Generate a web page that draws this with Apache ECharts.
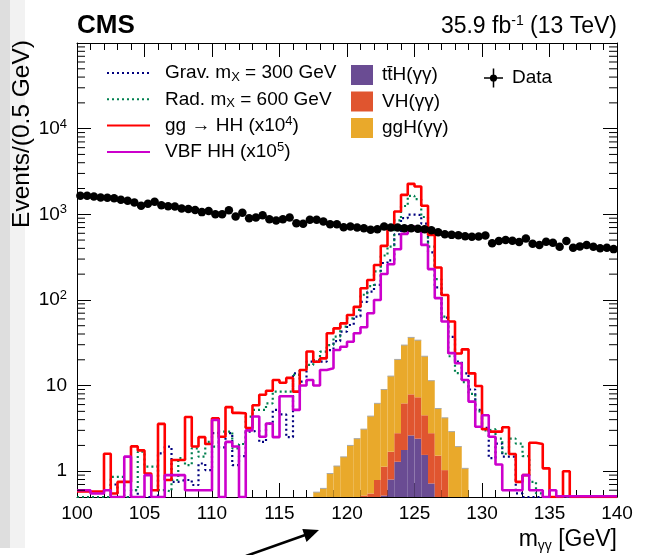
<!DOCTYPE html>
<html><head><meta charset="utf-8">
<script src="https://cdn.jsdelivr.net/npm/echarts@6/dist/echarts.min.js"></script>
<style>html,body{margin:0;padding:0;background:#fff}#c{width:645px;height:555px}</style>
</head><body><div id="c"></div>
<script>
// ---- binning (80 bins of 0.5 GeV from 100 to 140) ----
const binLow = 100;
const binWidth = 0.5;

// ---- observed events per bin ----
const dataCounts = [
 1641,1641,1612,1569,1555,1541,1474,1435,1373,1256,
 1325,1398,1279,1244,1233,1165,1155,1124,1060,1089,
 1004,1004,1114,943,1041,901,918,977,877,846,
 877,918,787,773,861,861,823,766,766,707,
 720,701,689,658,670,720,701,701,689,689,
 676,670,653,617,586,575,570,555,545,550,
 565,458,487,500,491,474,523,454,438,478,
 465,418,487,407,422,438,418,400,407,392];

// ---- signal step histograms (0.5 = at/below the lower edge of the plot) ----
const gravHH = [
 0.5,0.5,0.5,0.5,0.5,0.7,0.5,0.5,0.6,0.5,
 0.5,0.5,1.62,1.94,0.75,0.79,0.79,0.69,1.23,1.03,
 2.78,1.9,2.78,1.18,1.5,2.9,3.0,2.2,3.6,5.2,
 4.6,2.5,13.9,11.1,19,19,19,26,33,42.6,
 51,64,95,125,150,270,290,585,900,990,
 980,780,360,140,62,37,19,13.9,9,5.2,
 3.2,1.42,2.1,1.48,1.48,0.55,0.5,0.5,0.5,0.5,
 0.5,0.5,0.5,0.5,0.5,0.5,0.5,0.5,0.5,0.5];
const radHH = [
 0.5,0.5,0.5,0.5,0.5,0.86,0.86,0.5,0.6,1.69,
 1.13,1.13,0.6,0.58,0.79,1.42,1.18,1.85,1.48,2.2,
 1.94,2.9,2.9,1.85,2.08,4.35,5.2,5.2,6.2,8.5,
 8.5,8.5,13.3,15.2,17.4,19.9,24.9,29.7,37.3,48.9,
 61,76.5,115,145,215,330,420,850,1250,1640,
 1500,930,420,175,64,22,14,11,8,5,
 3.0,3.1,2.4,1.6,2.4,2.1,1.5,0.75,0.55,0.5,
 0.5,0.5,0.5,0.5,0.5,0.5,0.5,0.5,0.5,0.5];
const ggHH = [
 0.58,0.58,0.58,0.58,1.6,0.55,0.75,0.75,1.95,1.75,
 0.94,0.6,3.57,0.79,1.35,1.35,4.3,1.94,2.5,2.08,
 4.15,2.53,5.6,4.8,4.75,3.2,5.9,7.8,8.7,11.6,
 10.8,12.3,8.5,15.2,25,19,20.8,40.8,46.6,53.2,
 66.6,83,137,171,256,428,689,1076,1687,2268,
 2109,1256,575,239,114,56,23.7,26.5,13.9,9.9,
 3.1,2.9,2.9,3.26,1.59,0.75,0.9,2.15,2.08,1.08,
 0.5,0.5,1.0,0.5,0.5,0.5,0.5,0.5,0.5,0.5];
const vbfHH = [
 0.6,0.6,0.55,0.55,0.6,0.5,0.5,1.48,0.5,0.5,
 0.9,0.5,0.5,0.9,0.9,0.9,0.6,0.6,0.6,0.6,
 3.97,0.5,2.2,1.94,0.5,3.0,4.35,2.53,3.6,2.5,
 7.5,7.5,5.2,10,11.6,10,15.2,15.9,26,28.4,
 32.5,40.8,48,70,100,201,261,391,591,719,
 658,439,229,105,56,23.9,18.2,11.6,6.5,3.3,
 4.5,2.53,1.2,0.6,0.6,0.6,0.9,0.6,0.6,0.5,
 0.6,0.51,0.51,0.51,0.51,0.51,0.51,0.51,0.51,0.51];

// ---- SM single-Higgs stacked contributions (per bin, not cumulative) ----
const ttH = [
 0,0,0,0,0,0,0,0,0,0, 0,0,0,0,0,0,0,0,0,0,
 0,0,0,0,0,0,0,0,0,0, 0,0,0,0,0,0,0,0,0,0,
 0,0,0,0,0,0.52,0.8,1.29,1.77,2.62,
 2.4,1.55,0.72,0,0,0,0,0,0,0,
 0,0,0,0,0,0,0,0,0,0, 0,0,0,0,0,0,0,0,0,0];
const VH = [
 0,0,0,0,0,0,0,0,0,0, 0,0,0,0,0,0,0,0,0,0,
 0,0,0,0,0,0,0,0,0,0, 0,0,0,0,0,0,0,0,0,0,
 0,0,0.52,0.55,0.79,0.61,0.89,1.49,4.43,5.28,
 4.9,2.95,2.06,1.52,1.03,0,0,0,0,0,
 0,0,0,0,0,0,0,0,0,0, 0,0,0,0,0,0,0,0,0,0];
const ggH = [
 0,0,0,0,0,0,0,0,0,0, 0,0,0,0,0,0,0,0,0,0,
 0,0,0,0,0,0,0,0,0,0, 0,0,0,0,0,0.57,0.63,0.94,1.15,1.47,
 2.0,2.4,2.58,3.85,5.41,7.87,11.21,17.42,23.5,28.6,
 26.6,17.5,8.62,3.88,3.17,2.9,1.94,1.08,0,0,
 0,0,0,0,0,0,0,0,0,0, 0,0,0,0,0,0,0,0,0,0];

// ---- axis labels ----
const yTickLabels = {1:'1', 10:'10', 100:'10{sup|2}', 1000:'10{sup|3}', 10000:'10{sup|4}'};
const legendLabels = {
  grav: 'Grav. m{sub|X} = 300 GeV',
  rad: 'Rad. m{sub|X} = 600 GeV',
  gghh: 'gg \u2192 HH (x10{sup|4})',
  vbfhh: 'VBF HH (x10{sup|5})',
  tth: 'tt\u0304H(\u03b3\u03b3)',
  vh: 'VH(\u03b3\u03b3)',
  ggh: 'ggH(\u03b3\u03b3)',
  data: 'Data'
};

const Y_MIN = 0.5, Y_MAX = 1e5;
const FONT = '"Liberation Sans", Arial, Helvetica, sans-serif';
const COL = {grav:'#00007f', rad:'#00804f', gghh:'#ff0000', vbfhh:'#cc00cc',
             tth:'#6a4c93', vh:'#e0552f', ggh:'#e9a92b'};

function stepPoints(arr){
  const pts = arr.map((v,i)=>[binLow + binWidth*i, v]);
  pts.push([binLow + binWidth*arr.length, arr[arr.length-1]]);
  return pts;
}
const dataPoints = dataCounts.map((v,i)=>[binLow + binWidth*(i+0.5), v]);

// cumulative stack layers
function stackRows(lower, own){
  const rows = [];
  own.forEach((v,i)=>{
    if (v > 0) {
      const b = lower.reduce((s,a)=>s + a[i], 0);
      rows.push([binLow + binWidth*i, binLow + binWidth*(i+1), b, b + v]);
    }
  });
  return rows;
}
function stackSeries(name, lower, own, edge){
  return {
    type:'custom', name: name, clip:true, z:2,
    itemStyle:{color: COL[name]},
    encode:{x:[0,1], y:3},
    data: stackRows(lower, own),
    renderItem: function(params, api){
      const x0 = api.value(0), x1 = api.value(1);
      const b = Math.max(api.value(2), Y_MIN), t = api.value(3);
      if (t <= Y_MIN) return null;
      const p0 = api.coord([x0, b]), p1 = api.coord([x1, t]);
      const children = [{type:'rect', shape:{x:p0[0], y:p1[1], width:p1[0]-p0[0], height:p0[1]-p1[1]},
        style:{fill: COL[name]}}];
      if (edge) children.push({type:'line', shape:{x1:p0[0], y1:p1[1], x2:p1[0], y2:p1[1]},
        style:{stroke:'#a8a8a8', lineWidth:1}});
      return {type:'group', children: children};
    }
  };
}

// log minor-tick positions (axis decoration)
const logMinorTicks = [];
for (let e = -1; e <= 4; e++) for (let m = 2; m <= 9; m++) {
  const v = m * Math.pow(10, e);
  if (v > Y_MIN && v < Y_MAX) logMinorTicks.push(v);
}

const RICH = {
  sub:{fontSize:13, lineHeight:10, verticalAlign:'bottom', fontFamily:FONT, color:'#000'},
  sup:{fontSize:13, lineHeight:10, verticalAlign:'top', fontFamily:FONT, color:'#000'}
};
const legText = {fontSize:19, fontFamily:FONT, color:'#000', lineHeight:22, rich:RICH};

function xAxisCfg(pos){
  return {type:'value', min:100, max:140, interval:5, position:pos,
    axisLine:{show:true, onZero:false, lineStyle:{color:'#000', width:1}},
    axisTick:{show:true, inside:true, length:14, lineStyle:{color:'#000', width:1}},
    minorTick:{show:true, splitNumber:5, length:7, lineStyle:{color:'#000', width:1}},
    axisLabel:{show: pos==='bottom', margin:7, fontSize:19, fontFamily:FONT, color:'#000'},
    splitLine:{show:false}, minorSplitLine:{show:false}};
}
function yAxisCfg(pos){
  return {type:'log', logBase:10, min:Y_MIN, max:Y_MAX, position:pos,
    axisLine:{show:true, onZero:false, lineStyle:{color:'#000', width:1}},
    axisTick:{show:true, inside:true, length:14, lineStyle:{color:'#000', width:1}},
    axisLabel:{show: pos==='left', margin:10, fontSize:19, fontFamily:FONT, color:'#000',
      showMinLabel:false, showMaxLabel:false, lineHeight:22, rich:{sup:{fontSize:13, lineHeight:10, verticalAlign:'top', fontFamily:FONT, color:'#000'}},
      formatter: function(v){
        const e = Math.round(Math.log10(v)); const k = Math.pow(10, e);
        if (Math.abs(v-k)/k < 1e-6 && yTickLabels[k] !== undefined) return yTickLabels[k];
        return '';
      }},
    splitLine:{show:false}};
}

const DATA_ICON = 'path://M0,9.2H20V10.8H0Z M9.2,0H10.8V20H9.2Z M13.8,10A3.8,3.8 0 1 1 6.2,10A3.8,3.8 0 1 1 13.8,10Z';

const option = {
  animation:false,
  backgroundColor:'#fff',
  grid:{left:77, right:28, top:43, bottom:58, containLabel:false, outerBoundsMode:'none'},
  xAxis:[xAxisCfg('bottom'), xAxisCfg('top')],
  yAxis:[yAxisCfg('left'), yAxisCfg('right')],
  legend:[
    {data:['grav','rad','gghh','vbfhh'], orient:'vertical', left:106, top:62, padding:0,
     itemWidth:43, itemHeight:14, itemGap:4.3, selectedMode:false,
     itemStyle:{opacity:0},
     formatter:n=>legendLabels[n], textStyle:Object.assign({padding:[0,0,0,10]}, legText)},
    {data:[{name:'tth',icon:'rect'},{name:'vh',icon:'rect'},{name:'ggh',icon:'rect'}],
     orient:'vertical', left:351, top:64, padding:0, itemWidth:22, itemHeight:20, itemGap:4.5,
     selectedMode:false, formatter:n=>legendLabels[n], textStyle:Object.assign({padding:[0,0,0,4]}, legText)},
    {data:[{name:'data', icon:DATA_ICON}], orient:'vertical', left:484, top:67, padding:0,
     itemWidth:19, itemHeight:19, selectedMode:false, formatter:n=>legendLabels[n],
     textStyle:Object.assign({padding:[0,0,0,4]}, legText)}
  ],
  series:[
    stackSeries('tth', [], ttH, false),
    stackSeries('vh', [ttH], VH, false),
    stackSeries('ggh', [ttH, VH], ggH, true),
    {type:'line', name:'grav', data:stepPoints(gravHH), step:'end', symbol:'none', clip:true, z:4,
     lineStyle:{color:COL.grav, width:2.2, type:[2,3], cap:'butt'}, itemStyle:{color:COL.grav}},
    {type:'line', name:'rad', data:stepPoints(radHH), step:'end', symbol:'none', clip:true, z:4,
     lineStyle:{color:COL.rad, width:2.2, type:[2,3], cap:'butt'}, itemStyle:{color:COL.rad}},
    {type:'line', name:'gghh', data:stepPoints(ggHH), step:'end', symbol:'none', clip:true, z:5,
     lineStyle:{color:COL.gghh, width:2.6}, itemStyle:{color:COL.gghh}},
    {type:'line', name:'vbfhh', data:stepPoints(vbfHH), step:'end', symbol:'none', clip:true, z:6,
     lineStyle:{color:COL.vbfhh, width:2.6}, itemStyle:{color:COL.vbfhh}},
    {type:'scatter', name:'data', data:dataPoints, symbol:'circle', symbolSize:8.5, z:8,
     itemStyle:{color:'#000', opacity:1}},
    {type:'custom', name:'minorTicks', silent:true, z:9, encode:{x:0, y:1},
     data: logMinorTicks.map(v=>[100, v]),
     renderItem:function(params, api){
       const cs = params.coordSys; const y = api.coord([100, api.value(1)])[1];
       return {type:'group', children:[
         {type:'line', shape:{x1:cs.x, y1:y, x2:cs.x+8, y2:y}, style:{stroke:'#000', lineWidth:1}},
         {type:'line', shape:{x1:cs.x+cs.width-8, y1:y, x2:cs.x+cs.width, y2:y}, style:{stroke:'#000', lineWidth:1}}
       ]};
     }}
  ],
  graphic:[
    {type:'rect', z:-10, silent:true, shape:{x:0, y:0, width:10, height:548}, style:{fill:'#dedede'}},
    {type:'rect', z:-10, silent:true, shape:{x:10, y:0, width:15, height:548}, style:{fill:'#f2f2f2'}},
    {type:'text', x:77, y:26, style:{text:'CMS', font:'bold 26px '+FONT, fill:'#000', verticalAlign:'middle', align:'left'}},
    {type:'text', x:617, y:27, style:{text:'35.9 fb{sup|-1} (13 TeV)', fontSize:23, fontFamily:FONT, fill:'#000',
      align:'right', verticalAlign:'middle', lineHeight:26,
      rich:{sup:{fontSize:14, lineHeight:12, verticalAlign:'top', fontFamily:FONT, fill:'#000'}}}},
    {type:'text', x:22, y:40, rotation:Math.PI/2, style:{text:'Events/(0.5 GeV)', fontSize:24.5, fontFamily:FONT,
      fill:'#000', align:'right', verticalAlign:'middle'}},
    {type:'text', x:617, y:540, style:{text:'m{sub|\u03b3\u03b3} [GeV]', fontSize:23, fontFamily:FONT, fill:'#000',
      align:'right', verticalAlign:'middle', lineHeight:26,
      rich:{sub:{fontSize:14, lineHeight:12, verticalAlign:'bottom', fontFamily:FONT, fill:'#000'}}}},
    {type:'line', shape:{x1:246, y1:556, x2:308, y2:534}, style:{stroke:'#000', lineWidth:2.5}},
    {type:'polygon', shape:{points:[[319,530],[306.5,542],[302.3,529]]}, style:{fill:'#000'}}
  ]
};

const chart = echarts.init(document.getElementById('c'), null, {renderer:'canvas'});
chart.setOption(option);
</script>
</body></html>
